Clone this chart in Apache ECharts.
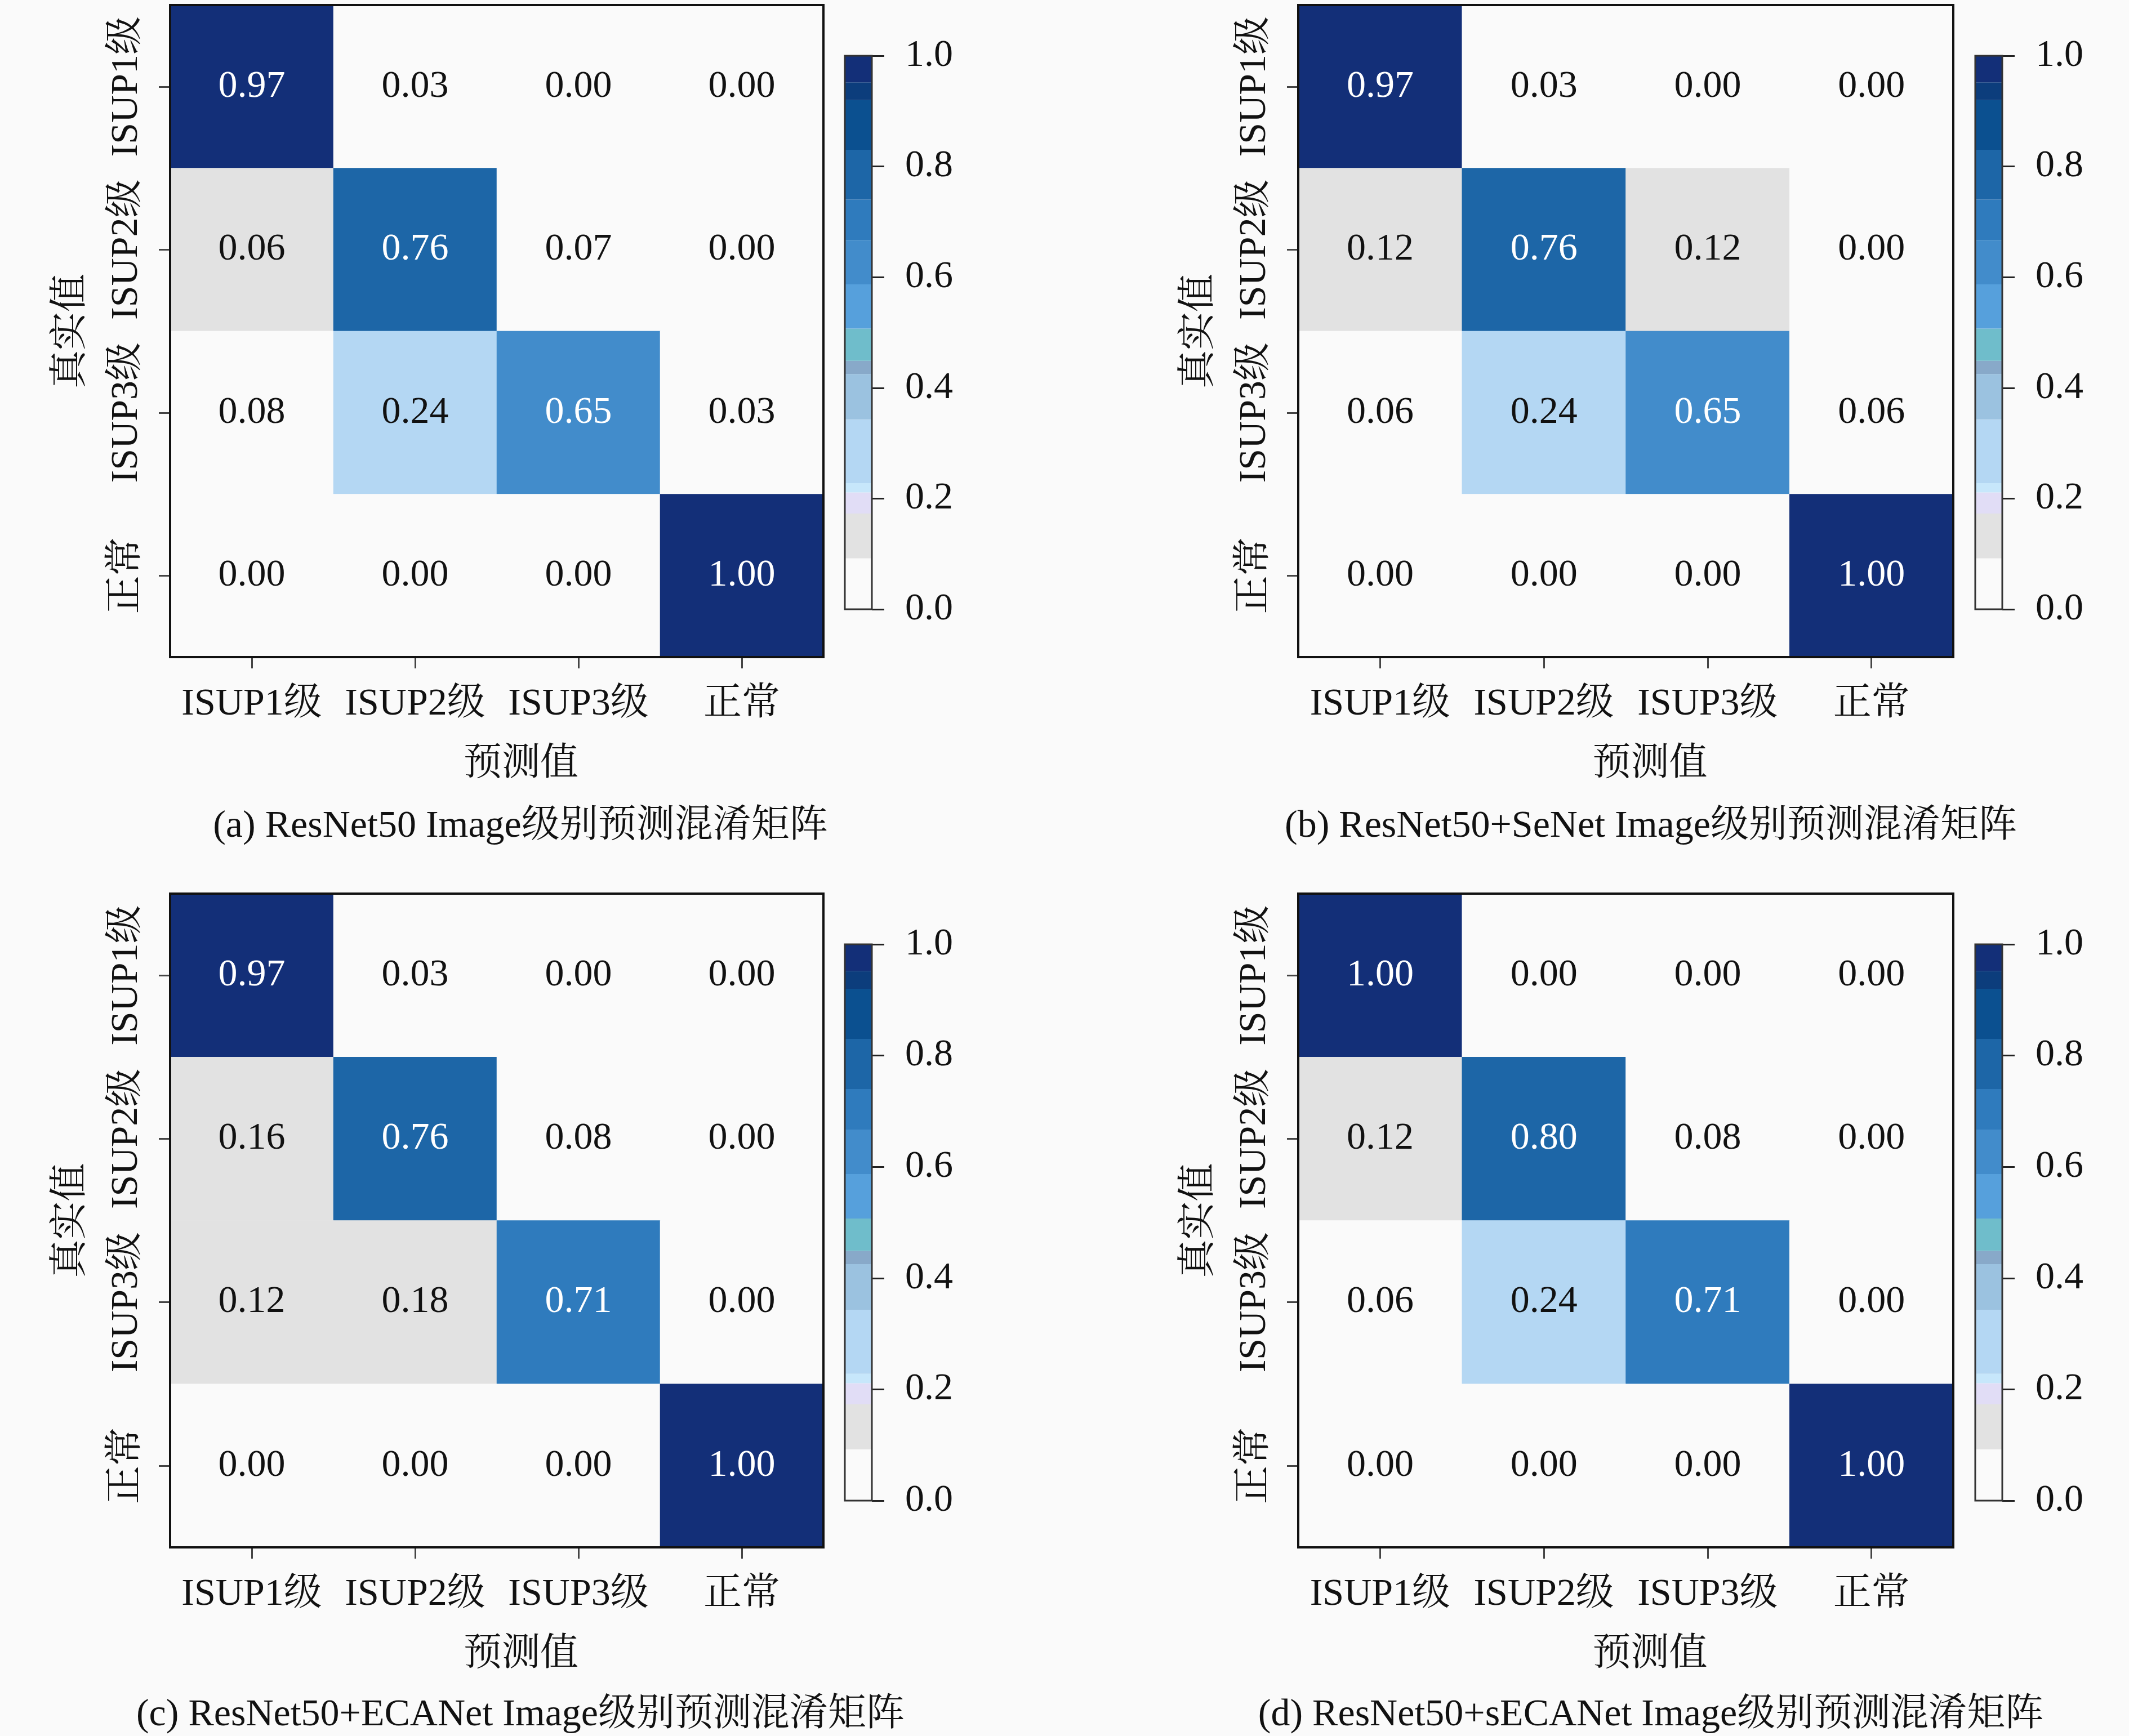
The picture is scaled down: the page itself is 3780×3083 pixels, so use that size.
<!DOCTYPE html>
<html>
<head>
<meta charset="utf-8">
<script src="https://cdn.jsdelivr.net/npm/echarts@6/dist/echarts.min.js"></script>
<style>
html,body{margin:0;padding:0;background:#fafafa;}
#chart{width:3780px;height:3083px;}
</style>
</head>
<body>
<div id="chart"></div>
<script>
// ---------------- data ----------------
const categories = ['ISUP1级', 'ISUP2级', 'ISUP3级', '正常'];
const xName = '预测值';
const yName = '真实值';

// rows = true class (top to bottom), columns = predicted class
const matrixA = [
  [0.97, 0.03, 0.00, 0.00],
  [0.06, 0.76, 0.07, 0.00],
  [0.08, 0.24, 0.65, 0.03],
  [0.00, 0.00, 0.00, 1.00]
];
const matrixB = [
  [0.97, 0.03, 0.00, 0.00],
  [0.12, 0.76, 0.12, 0.00],
  [0.06, 0.24, 0.65, 0.06],
  [0.00, 0.00, 0.00, 1.00]
];
const matrixC = [
  [0.97, 0.03, 0.00, 0.00],
  [0.16, 0.76, 0.08, 0.00],
  [0.12, 0.18, 0.71, 0.00],
  [0.00, 0.00, 0.00, 1.00]
];
const matrixD = [
  [1.00, 0.00, 0.00, 0.00],
  [0.12, 0.80, 0.08, 0.00],
  [0.06, 0.24, 0.71, 0.00],
  [0.00, 0.00, 0.00, 1.00]
];
// cells that the source shades grey although their printed value lies outside the grey band ([row, col])
const greyCellsA = [[1, 0]];
const greyCellsB = [];
const greyCellsC = [[2, 1]];
const greyCellsD = [];

const captions = [
  '(a) ResNet50 Image级别预测混淆矩阵',
  '(b) ResNet50+SeNet Image级别预测混淆矩阵',
  '(c) ResNet50+ECANet Image级别预测混淆矩阵',
  '(d) ResNet50+sECANet Image级别预测混淆矩阵'
];

// discrete colour bar: band edges and band colours (bottom to top)
const bandEdges = [0, 0.092, 0.173, 0.211, 0.228, 0.343, 0.425, 0.449, 0.507, 0.587, 0.667, 0.74, 0.83, 0.92, 0.952, 1.0];
const bandColors = ['#fafafa', '#e2e2e2', '#e1ddf6', '#c7e7fb', '#b4d7f3', '#9bc2e0', '#88a9c9', '#6fbdcb',
                    '#56a0dc', '#428ccb', '#2f7bbd', '#1d66a7', '#0b5090', '#0c3d7c', '#132f78'];
const colorbarTicks = [0.0, 0.2, 0.4, 0.6, 0.8, 1.0];

// ---------------- layout ----------------
const FONT = "'Liberation Serif','Noto Serif CJK SC','Noto Sans CJK SC',serif";
const FS = 68;
const TXT = '#111';
const cols = [
  {gridLeft: 302, gridW: 1160, cbLeft: 1500, capX: 924},
  {gridLeft: 2305, gridW: 1163, cbLeft: 3507, capX: 2931}
];
const rows = [
  {gridTop: 9, gridH: 1158, cbTop: 99, cbH: 983, capY: 1468},
  {gridTop: 1587, gridH: 1161, cbTop: 1677, cbH: 988, capY: 3046}
];
const CBW = 48;

const panels = [
  {m: matrixA, g: greyCellsA, c: cols[0], r: rows[0], cap: captions[0]},
  {m: matrixB, g: greyCellsB, c: cols[1], r: rows[0], cap: captions[1]},
  {m: matrixC, g: greyCellsC, c: cols[0], r: rows[1], cap: captions[2]},
  {m: matrixD, g: greyCellsD, c: cols[1], r: rows[1], cap: captions[3]}
];

const grid = [], xAxis = [], yAxis = [], series = [], visualMap = [], graphic = [];
const pieces = bandColors.map((col, k) => k === bandColors.length - 1
  ? {gte: bandEdges[k], lte: bandEdges[k + 1], color: col}
  : {gte: bandEdges[k], lt: bandEdges[k + 1], color: col});
const greyLevel = (bandEdges[1] + bandEdges[2]) / 2;

panels.forEach((p, i) => {
  grid.push({left: p.c.gridLeft, top: p.r.gridTop, width: p.c.gridW, height: p.r.gridH, containLabel: false});
  xAxis.push({
    type: 'category', gridIndex: i, data: categories, position: 'bottom',
    name: xName, nameLocation: 'middle', nameGap: 157,
    nameTextStyle: {fontFamily: FONT, fontSize: FS, color: TXT, padding: [0, 0, 0, 86]},
    axisLine: {show: false},
    axisTick: {show: true, interval: 0, alignWithLabel: true, length: 20, lineStyle: {color: '#444', width: 3}},
    axisLabel: {interval: 0, fontFamily: FONT, fontSize: FS, color: TXT, margin: 50},
    splitLine: {show: false}
  });
  yAxis.push({
    type: 'category', gridIndex: i, data: categories, inverse: true,
    name: yName, nameLocation: 'middle', nameGap: 141, nameRotate: 90,
    nameTextStyle: {fontFamily: FONT, fontSize: FS, color: TXT},
    axisLine: {show: false},
    axisTick: {show: true, interval: 0, alignWithLabel: true, length: 20, lineStyle: {color: '#444', width: 3}},
    axisLabel: {interval: 0, fontFamily: FONT, fontSize: FS, color: TXT, rotate: 90, margin: 43},
    splitLine: {show: false}
  });
  const data = [];
  p.m.forEach((row, ri) => row.forEach((v, ci) => {
    const grey = p.g.some(([gr, gc]) => gr === ri && gc === ci);
    data.push([ci, ri, v, grey ? greyLevel : v]);
  }));
  series.push({
    type: 'heatmap', xAxisIndex: i, yAxisIndex: i, data: data,
    encode: {x: 0, y: 1, value: 2},
    label: {
      show: true,
      formatter: (prm) => (prm.value[2] > 0.5 ? '{w|' : '{k|') + prm.value[2].toFixed(2) + '}',
      rich: {
        w: {color: '#ffffff', fontFamily: FONT, fontSize: FS},
        k: {color: TXT, fontFamily: FONT, fontSize: FS}
      }
    },
    emphasis: {disabled: true},
    itemStyle: {borderWidth: 0}
  });
  visualMap.push({type: 'piecewise', show: false, seriesIndex: i, dimension: 3, pieces: pieces});
  graphic.push({
    type: 'rect', z: 100, silent: true,
    shape: {x: p.c.gridLeft, y: p.r.gridTop, width: p.c.gridW, height: p.r.gridH},
    style: {fill: 'none', stroke: '#111', lineWidth: 4}
  });
  graphic.push({
    type: 'rect', z: 100, silent: true,
    shape: {x: p.c.cbLeft, y: p.r.cbTop, width: CBW, height: p.r.cbH},
    style: {fill: 'none', stroke: '#333', lineWidth: 3}
  });
  graphic.push({
    type: 'text', z: 100, silent: true, x: p.c.capX, y: p.r.capY,
    style: {text: p.cap, font: FS + 'px ' + FONT, fill: TXT, textAlign: 'center', textVerticalAlign: 'middle'}
  });
});

// colour bars
panels.forEach((p, i) => {
  const gi = 4 + i;
  grid.push({left: p.c.cbLeft, top: p.r.cbTop, width: CBW, height: p.r.cbH});
  xAxis.push({type: 'category', gridIndex: gi, data: [''], show: false});
  yAxis.push({
    type: 'value', gridIndex: gi, position: 'right', min: 0, max: 1, interval: 0.2,
    axisLine: {show: false},
    axisTick: {show: true, length: 22, lineStyle: {color: '#222', width: 3}},
    axisLabel: {fontFamily: FONT, fontSize: FS, color: TXT, margin: 59,
      formatter: (v) => colorbarTicks.some(t => Math.abs(t - v) < 1e-6) ? v.toFixed(1) : ''},
    splitLine: {show: false}
  });
  bandColors.forEach((col, k) => {
    series.push({
      type: 'bar', xAxisIndex: gi, yAxisIndex: gi, stack: 'cb' + i,
      barWidth: '100%', data: [bandEdges[k + 1] - bandEdges[k]],
      itemStyle: {color: col}, silent: true, emphasis: {disabled: true}
    });
  });
});

const chart = echarts.init(document.getElementById('chart'), null, {renderer: 'canvas'});
chart.setOption({
  backgroundColor: '#fafafa',
  animation: false,
  grid, xAxis, yAxis, series, visualMap, graphic,
  tooltip: {show: false}
});
</script>
</body>
</html>
